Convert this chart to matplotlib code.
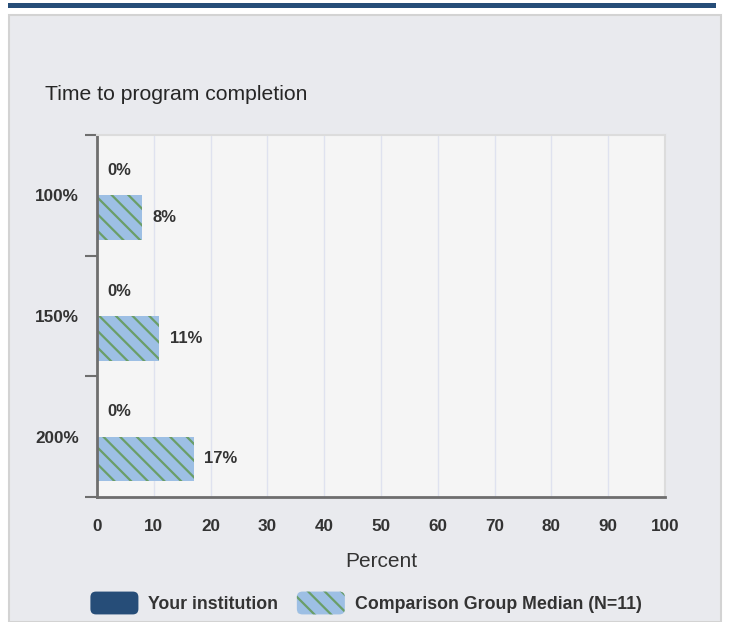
import matplotlib.pyplot as plt
from matplotlib.patches import Rectangle, Patch, FancyBboxPatch
from matplotlib.legend_handler import HandlerPatch

categories = ['100%', '150%', '200%']
your_institution = [0, 0, 0]
comparison_median = [8, 11, 17]
x_ticks = list(range(0, 101, 10))

plt.rcParams['font.family'] = ['Liberation Sans', 'DejaVu Sans']
plt.rcParams['hatch.linewidth'] = 1.6

DARK = '#264d78'
LIGHT = '#9dbfe4'
HATCH = '#6a9e68'
TEXT = '#333333'


def rounded_handle(legend, orig_handle, xdescent, ydescent, width, height, fontsize):
    return FancyBboxPatch((-xdescent, -ydescent), width, height,
                          boxstyle='round,pad=0,rounding_size=4')


fig = plt.figure(figsize=(7.29, 6.22), dpi=100)
W, H = 729, 622

# header strip and panel background
fig.patches.append(Rectangle((8 / W, 1 - 8 / H), 708 / W, 5 / H, transform=fig.transFigure,
                             facecolor=DARK, edgecolor='none', zorder=-10))
fig.patches.append(Rectangle((9 / W, 0), 712 / W, 1 - 15 / H, transform=fig.transFigure,
                             facecolor='#e9eaee', edgecolor='#d3d3d3', linewidth=1.5, zorder=-10))

ax = fig.add_axes([97 / W, 1 - 497 / H, 568 / W, 362 / H])
ax.set_zorder(1)
ax.set_facecolor('#f5f5f5')

bh = 0.37
pos = list(range(len(categories)))
ax.barh([p - bh / 2 for p in pos], your_institution, height=bh, color=DARK, zorder=2)
ax.barh([p + bh / 2 for p in pos], comparison_median, height=bh, color=LIGHT,
        hatch='\\\\', edgecolor=HATCH, linewidth=0, zorder=2)

for p, v in zip(pos, your_institution):
    ax.text(v + 1.8, p - bh / 2 - 0.02, f'{v}%', va='center', ha='left',
            fontsize=12, fontweight='bold', color=TEXT)
for p, v in zip(pos, comparison_median):
    ax.text(v + 1.8, p + bh / 2, f'{v}%', va='center', ha='left',
            fontsize=12, fontweight='bold', color=TEXT)

ax.set_xlim(0, 100)
ax.set_ylim(2.5, -0.5)
ax.set_xticks(x_ticks)
ax.set_xticklabels([str(t) for t in x_ticks], fontsize=12.3, fontweight='bold', color=TEXT)
ax.set_yticks(pos)
ax.set_yticklabels(categories, fontsize=12.3, fontweight='bold', color=TEXT)
ax.set_yticks([-0.5, 0.5, 1.5, 2.5], minor=True)
ax.tick_params(axis='y', which='major', length=0, pad=13)
ax.tick_params(axis='y', which='minor', length=9, width=1.5, color='#6e6e6e')
ax.tick_params(axis='x', length=0, pad=16)

ax.grid(axis='x', color='#dfe2ef', linewidth=1, zorder=0)
ax.set_axisbelow(True)
for side in ['top', 'right']:
    ax.spines[side].set_color('#dcdcdc')
    ax.spines[side].set_linewidth(1.5)
for side in ['left', 'bottom']:
    ax.spines[side].set_color('#6e6e6e')
    ax.spines[side].set_linewidth(2)

ax.set_xlabel('Percent', fontsize=15, color=TEXT, labelpad=13)

fig.text(45 / W, 1 - 94 / H, 'Time to program completion', fontsize=15.2,
         color='#262626', va='center', ha='left')

handles = [Patch(facecolor=DARK, edgecolor='none'),
           Patch(facecolor=LIGHT, hatch='\\\\', edgecolor=HATCH, linewidth=0)]
leg = fig.legend(handles, ['Your institution', 'Comparison Group Median (N=11)'],
                 loc='center', bbox_to_anchor=(0.502, 1 - 603 / H), ncol=2, frameon=False,
                 handlelength=2.7, handleheight=1.6, columnspacing=1.05, handletextpad=0.55,
                 handler_map={Patch: HandlerPatch(patch_func=rounded_handle)},
                 prop={'size': 12.8, 'weight': 'bold'})
for t in leg.get_texts():
    t.set_color(TEXT)

fig.savefig('out.png', dpi=100, facecolor='white')
